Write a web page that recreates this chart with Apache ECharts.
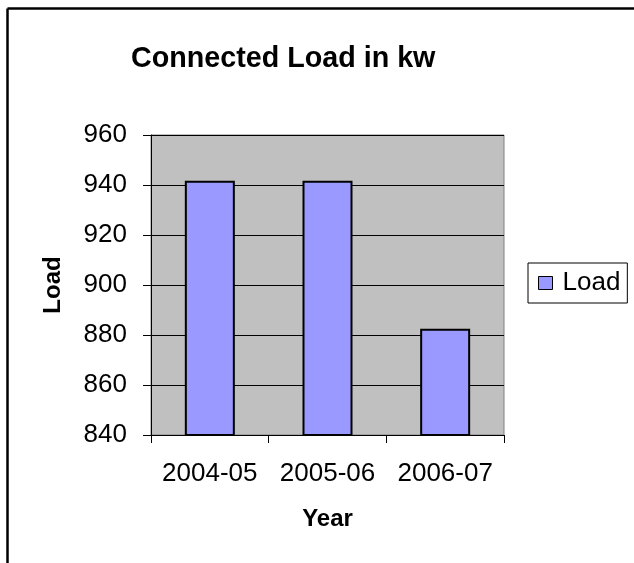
<!DOCTYPE html>
<html>
<head>
<meta charset="utf-8">
<script src="https://cdn.jsdelivr.net/npm/echarts@6/dist/echarts.min.js"></script>
<style>
html,body{margin:0;padding:0;background:#fff;}
#chart{width:634px;height:563px;}
</style>
</head>
<body>
<div id="chart"></div>
<script>
const categories = ['2004-05', '2005-06', '2006-07'];
const loadValues = [941.7, 941.7, 882.5];
const yTicks = { min: 840, max: 960, interval: 20 };
const titleText = 'Connected Load in kw';
const seriesName = 'Load';
const xName = 'Year';
const yName = 'Load';

const FONT = '"Liberation Sans", Arial, sans-serif';
const chart = echarts.init(document.getElementById('chart'), null, { renderer: 'canvas' });
chart.setOption({
  animation: false,
  backgroundColor: '#ffffff',
  title: {
    text: titleText,
    left: 131,
    top: 45,
    padding: 0,
    textStyle: { fontFamily: FONT, fontSize: 28.7, fontWeight: 'bold', color: '#000' }
  },
  legend: {
    data: [{ name: seriesName, icon: 'rect' }],
    left: 528,
    top: 263,
    padding: [7, 7, 7, 10],
    itemWidth: 14,
    itemHeight: 13,
    itemGap: 0,
    borderColor: '#000',
    borderWidth: 1,
    textStyle: { fontFamily: FONT, fontSize: 26, color: '#000', padding: [0, 0, 0, 5] },
    itemStyle: { borderColor: '#000', borderWidth: 1 }
  },
  grid: {
    left: 151, top: 135, width: 353, height: 300,
    show: true, backgroundColor: '#c0c0c0', borderColor: '#808080', borderWidth: 1
  },
  xAxis: {
    type: 'category',
    data: categories,
    name: xName,
    nameLocation: 'middle',
    nameGap: 72,
    nameTextStyle: { fontFamily: FONT, fontSize: 24, fontWeight: 'bold', color: '#000' },
    axisLine: { lineStyle: { color: '#000', width: 1 } },
    axisTick: { show: true, length: 8, lineStyle: { color: '#000' } },
    axisLabel: { interval: 0, hideOverlap: false, fontFamily: FONT, fontSize: 26, color: '#000', margin: 26 },
    splitLine: { show: false }
  },
  yAxis: {
    type: 'value',
    min: yTicks.min, max: yTicks.max, interval: yTicks.interval,
    name: yName,
    nameLocation: 'middle',
    nameGap: 86,
    nameTextStyle: { fontFamily: FONT, fontSize: 24, fontWeight: 'bold', color: '#000' },
    axisLine: { show: true, lineStyle: { color: '#000', width: 1 } },
    axisTick: { show: true, length: 8, lineStyle: { color: '#000' } },
    axisLabel: { fontFamily: FONT, fontSize: 26, color: '#000', margin: 24 },
    splitLine: { show: true, lineStyle: { color: '#000', width: 1 } }
  },
  series: [{
    name: seriesName,
    type: 'bar',
    data: loadValues,
    barWidth: 50,
    itemStyle: { color: '#9999ff', borderColor: '#000', borderWidth: 2 }
  }],
  graphic: [
    { type: 'line', shape: { x1: 7.5, y1: 8.5, x2: 640, y2: 8.5 }, style: { stroke: '#000', lineWidth: 2.5 } },
    { type: 'line', shape: { x1: 7.5, y1: 8.5, x2: 7.5, y2: 570 }, style: { stroke: '#000', lineWidth: 2.5 } }
  ]
});
</script>
</body>
</html>
